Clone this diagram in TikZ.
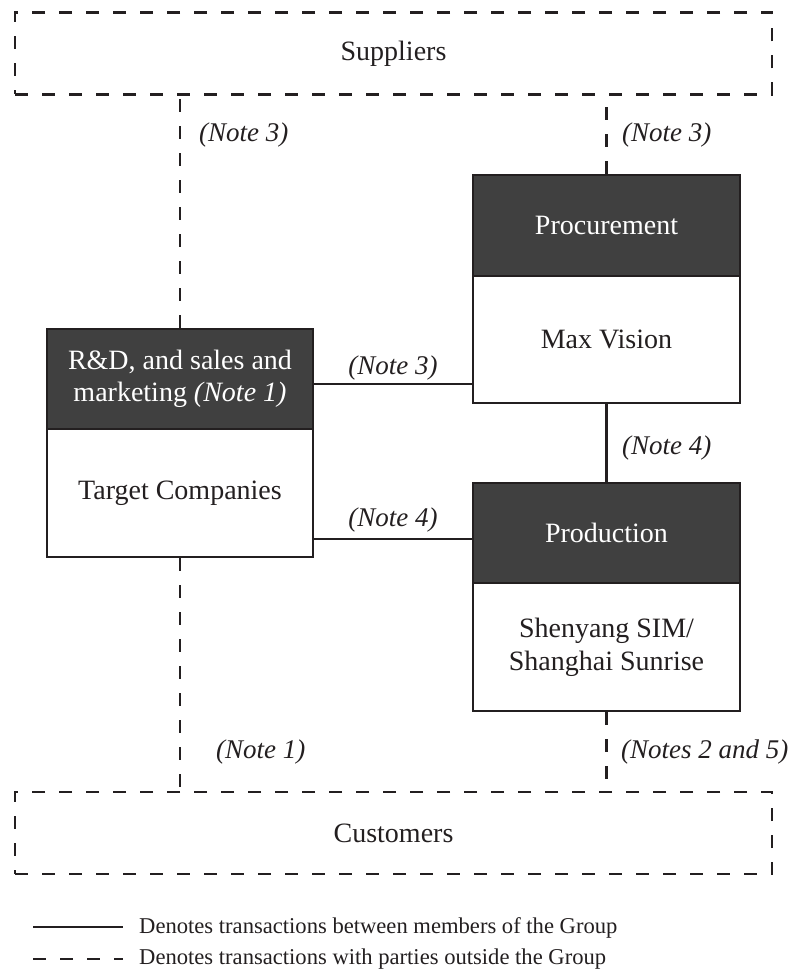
\documentclass[tikz,border=0pt]{standalone}
\usepackage{fontspec}
\setmainfont{Liberation Serif}
\usetikzlibrary{calc}
\definecolor{ink}{RGB}{35,31,32}
\definecolor{hdr}{RGB}{64,64,64}
\tikzset{
  big/.style={font=\fontsize{28}{32}\selectfont, text=ink},
  extbox/.style={draw=ink, line width=2.4pt, dash pattern=on 13pt off 14pt,
    minimum width=757pt, minimum height=82pt, inner sep=0pt, big},
  headbox/.style={draw=ink, fill=hdr, line width=2.2pt, inner sep=0pt,
    font=\fontsize{28}{32}\selectfont, text=white, align=center},
  bodybox/.style={draw=ink, fill=white, line width=2.2pt, inner sep=0pt,
    font=\fontsize{28}{33}\selectfont, text=ink, align=center},
  intl/.style={draw=ink, line width=2.2pt},
  extl/.style={draw=ink, line width=2.6pt, dash pattern=on 13pt off 14pt},
  note/.style={font=\fontsize{27}{32}\selectfont\itshape, text=ink, inner sep=0pt},
  legtext/.style={font=\fontsize{22.6}{26}\selectfont, text=ink, inner sep=0pt, anchor=west},
}
\begin{document}
\begin{tikzpicture}[x=1pt,y=-1pt]
\useasboundingbox (0,0) rectangle (795,971);

% outside parties
\node[extbox] (sup) at (393.5,53.5) {Suppliers};
\node[extbox] (cus) at (393.5,833) {Customers};

% R&D / Target Companies
\node[headbox, minimum width=266pt, minimum height=100pt] (rdh) at (180,379)
  {R\&D, and sales and\\marketing \textit{(Note 1)}};
\node[bodybox, minimum width=266pt, minimum height=128pt] (rdb) at (180,493)
  {Target Companies};

% Procurement / Max Vision
\node[headbox, minimum width=267pt, minimum height=101pt] (proch) at (606.5,225.5)
  {Procurement};
\node[bodybox, minimum width=267pt, minimum height=127pt] (procb) at (606.5,339.5)
  {Max Vision};

% Production / Shenyang SIM
\node[headbox, minimum width=267pt, minimum height=100pt] (prodh) at (606.5,533)
  {Production};
\node[bodybox, minimum width=267pt, minimum height=128pt] (prodb) at (606.5,647)
  {Shenyang SIM/\\Shanghai Sunrise};

% external transactions (dashed)
\draw[extl] (rdh.north) -- (rdh.north |- sup.south);
\draw[extl] (proch.north) -- (proch.north |- sup.south);
\draw[extl] (rdb.south) -- (rdb.south |- cus.north);
\draw[extl] (prodb.south) -- (prodb.south |- cus.north);

% internal transactions (solid)
\draw[intl] ([yshift=-5pt]rdh.east) -- ([yshift=-5pt]rdh.east -| procb.west);
\draw[intl] ([yshift=-6pt]prodh.west) -- ([yshift=-6pt]prodh.west -| rdb.east);
\draw[intl] (procb.south) -- (prodh.north);

% notes
\node[note, anchor=west] (n1) at (199,135) {(Note 3)};
\node[note, anchor=west] (n2) at (622,135) {(Note 3)};
\node[note] (n3) at (393,368) {(Note 3)};
\node[note] (n4) at (393,520) {(Note 4)};
\node[note, anchor=west] (n5) at (622,448) {(Note 4)};
\node[note, anchor=west] (n6) at (216,752) {(Note 1)};
\node[note, anchor=west] (n7) at (621,752) {(Notes 2 and 5)};

% legend
\coordinate (l1a) at (33,927);
\coordinate (l1b) at (123,927);
\coordinate (l2a) at (33,959);
\coordinate (l2b) at (123,959);
\draw[intl, line width=2.6pt] (l1a) -- (l1b);
\draw[extl] (l2a) -- (l2b);
\node[legtext] (lt1) at (139,928) {Denotes transactions between members of the Group};
\node[legtext] (lt2) at (139,959) {Denotes transactions with parties outside the Group};
\end{tikzpicture}
\end{document}
